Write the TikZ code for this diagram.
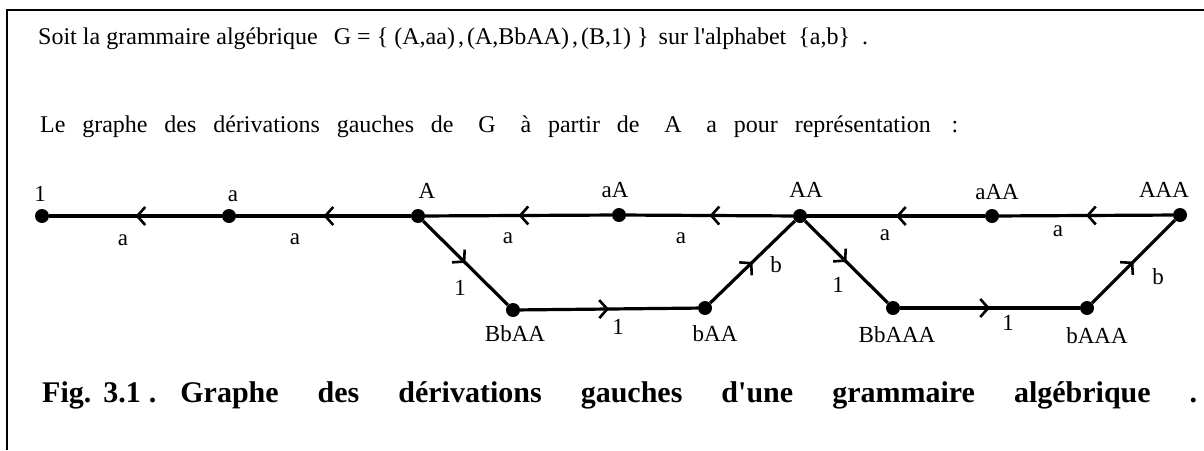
\documentclass[tikz,border=0pt]{standalone}
\usepackage{fontspec}
\setmainfont{Liberation Serif}
\usetikzlibrary{arrows.meta,decorations.markings}
\tikzset{
  dotv/.style={circle,fill=black,inner sep=0pt,minimum size=14pt},
  lbl/.style={inner sep=0pt,font=\fontsize{23}{27}\selectfont},
  txt/.style={inner sep=0pt,anchor=base west,font=\fontsize{24}{28}\selectfont},
  captxt/.style={inner sep=0pt,anchor=base west,font=\fontsize{30}{34}\selectfont\bfseries},
  conn/.style={line width=3.2pt,
    decoration={markings,mark=at position 0.5 with {\arrow{Straight Barb[length=8pt,width=18pt,line width=2.6pt]}}},
    postaction={decorate}},
  framel/.style={line width=2.8pt}
}
\begin{document}
\begin{tikzpicture}[x=1pt,y=-1pt]
\useasboundingbox (0,0) rectangle (1204,450);
% frame
\coordinate (fb) at (7,450);
\coordinate (fc) at (7,10);
\coordinate (fr) at (1204,10);
\draw[framel] (fb) -- (fc) -- (fr);
% texts
\node[txt] (t1) at (38,44) {\makebox[830pt][s]{Soit la grammaire algébrique\hspace{10pt} G = \{ (A,aa)\kern3pt,\kern3pt(A,BbAA)\kern3pt,\kern3pt(B,1) \}\hspace{4pt} sur l\textquotesingle alphabet\hspace{6pt} \{a,b\}\hspace{6pt} .}};
\node[txt] (t2) at (40,132) {\makebox[918pt][s]{Le graphe des dérivations gauches de\hspace{8pt} G\hspace{8pt} à partir de\hspace{8pt} A\hspace{8pt} a pour représentation\hspace{4pt} :}};
\node[captxt] (t3) at (42,402) {\makebox[1155pt][s]{Fig.\kern12pt3.1\kern8pt.\kern24pt Graphe des dérivations gauches d\textquotesingle une grammaire algébrique .}};
% vertices
\node[dotv] (n1) at (42,216) {};
\node[dotv] (na) at (229,216) {};
\node[dotv] (nA) at (418,216) {};
\node[dotv] (naA) at (619,215) {};
\node[dotv] (nAA) at (800,216) {};
\node[dotv] (naAA) at (992,216) {};
\node[dotv] (nAAA) at (1180,215) {};
\node[dotv] (nBbAA) at (513,310) {};
\node[dotv] (nbAA) at (705,308) {};
\node[dotv] (nBbAAA) at (893,308) {};
\node[dotv] (nbAAA) at (1087,308) {};
% vertex labels
\node[lbl,anchor=base] (l1) at (40,201) {1};
\node[lbl,anchor=base] (la) at (233,201) {a};
\node[lbl,anchor=base] (lA) at (427,198) {A};
\node[lbl,anchor=base] (laA) at (615,197) {aA};
\node[lbl,anchor=base] (lAA) at (806,197) {AA};
\node[lbl,anchor=base] (laAA) at (997,199) {aAA};
\node[lbl,anchor=base] (lAAA) at (1164,197) {AAA};
\node[lbl,anchor=base] (lBbAA) at (515,341) {BbAA};
\node[lbl,anchor=base] (lbAA) at (715,341) {bAA};
\node[lbl,anchor=base] (lBbAAA) at (897,342) {BbAAA};
\node[lbl,anchor=base] (lbAAA) at (1097,343) {bAAA};
% edge labels
\node[lbl,anchor=base] (e1) at (123,245) {a};
\node[lbl,anchor=base] (e2) at (295,244) {a};
\node[lbl,anchor=base] (e3) at (508,243) {a};
\node[lbl,anchor=base] (e4) at (681,243) {a};
\node[lbl,anchor=base] (e5) at (885,240) {a};
\node[lbl,anchor=base] (e6) at (1058,236) {a};
\node[lbl] (e7) at (460,288) {1};
\node[lbl] (e8) at (618,327) {1};
\node[lbl] (e9) at (776,265) {b};
\node[lbl] (e10) at (838,285) {1};
\node[lbl] (e11) at (1008,323) {1};
\node[lbl] (e12) at (1158,277) {b};
% edges
\draw[conn] (na) -- (n1);
\draw[conn] (nA) -- (na);
\draw[conn] (naA) -- (nA);
\draw[conn] (nAA) -- (naA);
\draw[conn] (naAA) -- (nAA);
\draw[conn] (nAAA) -- (naAA);
\draw[conn] (nA) -- (nBbAA);
\draw[conn] (nBbAA) -- (nbAA);
\draw[conn] (nbAA) -- (nAA);
\draw[conn] (nAA) -- (nBbAAA);
\draw[conn] (nBbAAA) -- (nbAAA);
\draw[conn] (nbAAA) -- (nAAA);
\end{tikzpicture}
\end{document}
